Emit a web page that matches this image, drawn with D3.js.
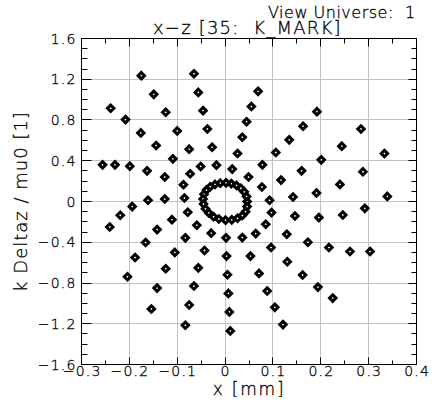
<!DOCTYPE html>
<html>
<head>
<meta charset="utf-8">
<script src="https://cdn.jsdelivr.net/npm/d3@7"></script>
<style>
  html, body { margin: 0; padding: 0; background: #fff; }
  svg text { font-family: "DejaVu Sans", "Liberation Sans", sans-serif; font-weight: 200; fill: #000; stroke: #000; stroke-width: 0.3; white-space: pre; }
</style>
</head>
<body>
<svg id="chart" width="446" height="406"></svg>
<script>
// Tracked particles, spoke pattern (x, k·Δz/μ0)
const spokePoints = [
  [0.015, 0.318], [0.026, 0.471], [0.036, 0.631], [0.045, 0.783], [0.055, 0.932], [0.069, 1.081],
  [-0.018, 0.357], [-0.027, 0.533], [-0.037, 0.712], [-0.046, 0.892], [-0.056, 1.071], [-0.065, 1.254],
  [-0.051, 0.344], [-0.075, 0.514], [-0.100, 0.693], [-0.124, 0.876], [-0.149, 1.052], [-0.175, 1.235],
  [-0.073, 0.272], [-0.109, 0.419], [-0.144, 0.550], [-0.176, 0.673], [-0.208, 0.804], [-0.239, 0.915],
  [-0.087, 0.165], [-0.126, 0.240], [-0.163, 0.301], [-0.199, 0.347], [-0.230, 0.360], [-0.256, 0.360],
  [-0.085, 0.034], [-0.126, 0.024], [-0.161, 0.012], [-0.194, -0.050], [-0.219, -0.135], [-0.241, -0.250],
  [-0.078, -0.106], [-0.111, -0.178], [-0.142, -0.276], [-0.166, -0.403], [-0.188, -0.550], [-0.204, -0.739],
  [-0.059, -0.233], [-0.083, -0.357], [-0.105, -0.500], [-0.124, -0.660], [-0.142, -0.850], [-0.154, -1.055],
  [-0.029, -0.311], [-0.043, -0.481], [-0.056, -0.651], [-0.065, -0.830], [-0.075, -1.016], [-0.083, -1.215],
  [0.002, -0.357], [0.003, -0.536], [0.005, -0.719], [0.007, -0.902], [0.009, -1.084], [0.011, -1.270],
  [0.036, -0.354], [0.053, -0.536], [0.071, -0.706], [0.088, -0.879], [0.104, -1.039], [0.121, -1.208],
  [0.064, -0.315], [0.096, -0.452], [0.130, -0.592], [0.162, -0.722], [0.194, -0.840], [0.225, -0.948],
  [0.085, -0.223], [0.129, -0.321], [0.173, -0.400], [0.217, -0.452], [0.261, -0.491], [0.303, -0.491],
  [0.097, -0.109], [0.146, -0.142], [0.196, -0.158], [0.246, -0.132], [0.292, -0.067], [0.339, 0.050],
  [0.093, 0.012], [0.142, 0.044], [0.191, 0.083], [0.240, 0.168], [0.288, 0.292], [0.333, 0.471],
  [0.077, 0.142], [0.117, 0.210], [0.160, 0.301], [0.201, 0.409], [0.244, 0.543], [0.284, 0.712],
  [0.049, 0.240], [0.078, 0.360], [0.106, 0.481], [0.134, 0.605], [0.163, 0.739], [0.192, 0.882]
];

// Core particles, closed ring around the origin
const ringPoints = [
  [0.046, 0.000], [0.045, 0.050], [0.040, 0.095], [0.033, 0.130], [0.024, 0.158], [0.013, 0.176],
  [0.002, 0.183], [-0.010, 0.180], [-0.021, 0.168], [-0.031, 0.145], [-0.039, 0.112], [-0.044, 0.072],
  [-0.046, 0.025], [-0.045, -0.025], [-0.041, -0.072], [-0.034, -0.112], [-0.024, -0.150], [-0.013, -0.172],
  [0.001, -0.183], [0.014, -0.180], [0.026, -0.165], [0.036, -0.138], [0.043, -0.100], [0.046, -0.050]
];

const xTicks = [-0.3, -0.2, -0.1, 0, 0.1, 0.2, 0.3, 0.4];
const xTickLabels = ["\u22120.3", "\u22120.2", "\u22120.1", "0", "0.1", "0.2", "0.3", "0.4"];
const yTicks = [-1.6, -1.2, -0.8, -0.4, 0, 0.4, 0.8, 1.2, 1.6];
const yTickLabels = ["\u22121.6", "\u22121.2", "\u22120.8", "\u22120.4", "0", "0.4", "0.8", "1.2", "1.6"];

const titleText = "x\u2212z [35:  K_MARK]";
const viewText = "View Universe:  1";
const xLabelText = "x [mm]";
const yLabelText = "k Deltaz / mu0 [1]";

const W = 446, H = 406;
const margin = { left: 81.5, right: 29.5, top: 38.5, bottom: 41.5 };
const pw = W - margin.left - margin.right;
const ph = H - margin.top - margin.bottom;

const svg = d3.select("#chart");
const g = svg.append("g").attr("transform", `translate(${margin.left},${margin.top})`);

const x = d3.scaleLinear().domain([-0.3, 0.4]).range([0, pw]);
const y = d3.scaleLinear().domain([-1.6, 1.6]).range([ph, 0]);

const isMajor = (v, list) => list.some(t => Math.abs(t - v) < 1e-9);
const xMinor = x.ticks(14).filter(v => !isMajor(v, xTicks));
const yMinor = y.ticks(32).filter(v => !isMajor(v, yTicks));
const px = v => Math.round(x(v));
const py = v => Math.round(y(v));

// grid
const grid = g.append("g").attr("stroke", "#c2c2c2").attr("stroke-width", 1);
grid.selectAll("line.gx").data(xTicks).join("line").attr("class", "gx")
  .attr("x1", d => px(d)).attr("x2", d => px(d)).attr("y1", 0).attr("y2", ph);
grid.selectAll("line.gy").data(yTicks).join("line").attr("class", "gy")
  .attr("y1", d => py(d)).attr("y2", d => py(d)).attr("x1", 0).attr("x2", pw);

// tick marks, all pointing into the frame
const ticks = g.append("g").attr("stroke", "#000").attr("stroke-width", 1);
function vTicks(values, y0, len) {
  ticks.append("g").selectAll("line").data(values).join("line")
    .attr("x1", d => px(d)).attr("x2", d => px(d))
    .attr("y1", y0).attr("y2", y0 + len);
}
function hTicks(values, x0, len) {
  ticks.append("g").selectAll("line").data(values).join("line")
    .attr("y1", d => py(d)).attr("y2", d => py(d))
    .attr("x1", x0).attr("x2", x0 + len);
}
vTicks(xTicks, ph, -7);
vTicks(xMinor, ph, -4);
vTicks(xTicks, 0, 8);
vTicks(xMinor, 0, 5);
hTicks(yTicks, 0, 10);
hTicks(yMinor, 0, 6);
hTicks(yTicks, pw, -8);
hTicks(yMinor, pw, -5);

// frame
g.append("rect").attr("x", 0).attr("y", 0).attr("width", pw).attr("height", ph)
  .attr("fill", "none").attr("stroke", "#000").attr("stroke-width", 1);

// tick labels
g.append("g").selectAll("text").data(xTicks).join("text")
  .attr("x", d => x(d) + 0.6).attr("y", ph + 11).attr("text-anchor", "middle")
  .attr("font-size", 14).attr("letter-spacing", 1.2)
  .text((d, i) => xTickLabels[i]);
g.append("g").selectAll("text").data(yTicks).join("text")
  .attr("x", -5).attr("y", d => y(d) + 5).attr("text-anchor", "end")
  .attr("font-size", 14).attr("letter-spacing", 1.2)
  .text((d, i) => yTickLabels[i]);

// axis titles
svg.append("text").attr("x", margin.left + pw / 2).attr("y", 395).attr("text-anchor", "middle")
  .attr("font-size", 17).attr("letter-spacing", 1.8).text(xLabelText);
svg.append("text").attr("transform", `translate(27,${margin.top + ph / 2}) rotate(-90)`)
  .attr("text-anchor", "middle").attr("font-size", 18).attr("letter-spacing", 1)
  .text(yLabelText);

// plot title and universe tag
svg.append("text").attr("x", 153).attr("y", 34).attr("font-size", 18).attr("letter-spacing", 1.2).text(titleText);
svg.append("text").attr("x", 268).attr("y", 18).attr("font-size", 16).attr("letter-spacing", 0.5).text(viewText);

// markers
const diamond = d3.symbol().type(d3.symbolDiamond2).size(26);
g.append("g").selectAll("path").data(spokePoints.concat(ringPoints)).join("path")
  .attr("d", diamond)
  .attr("transform", d => `translate(${x(d[0])},${y(d[1])})`)
  .attr("fill", "#fff").attr("stroke", "#000").attr("stroke-width", 3);
</script>
</body>
</html>
